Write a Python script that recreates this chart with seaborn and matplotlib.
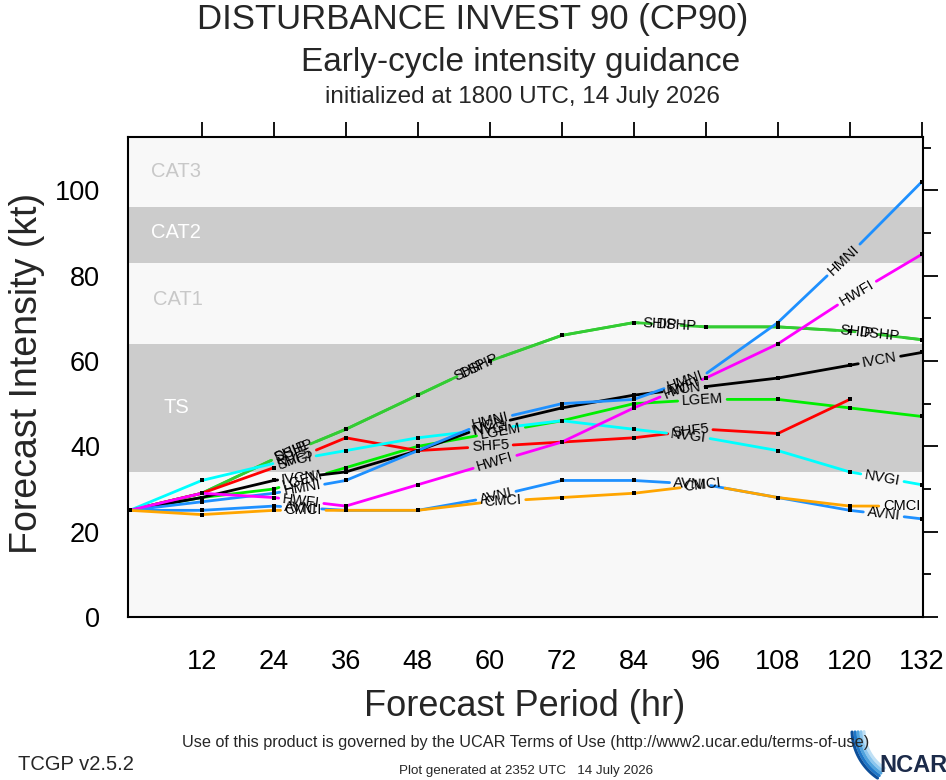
import numpy as np
import pandas as pd
import matplotlib
matplotlib.use("Agg")
import matplotlib.pyplot as plt
import seaborn as sns

# forecast hours and model intensities (kt)
hours = [0, 12, 24, 36, 48, 60, 72, 84, 96, 108, 120, 132]
ship = [25, 29, 37, 44, 52, 60, 66, 69, 68, 68, 67, 65]
dshp = [25, 29, 37, 44, 52, 60, 66, 69, 68, 68, 67, 65]
lgem = [25, 28, 30, 35, 40, 43, 46, 50, 51, 51, 49, 47]
shf5 = [25, 29, 35, 42, 39, 40, 41, 42, 44, 43, 51, np.nan]
nvgi = [25, 32, 36, 39, 42, 44, 46, 44, 42, 39, 34, 31]
ivcn = [25, 28, 32, 34, 39, 45, 49, 52, 54, 56, 59, 62]
hmni = [25, 27, 29, 32, 39, 46, 50, 51, 57, 69, 85, 102]
hwfi = [25, 29, 28, 26, 31, 36, 41, 49, 56, 64, 75, 85]
avni = [25, 25, 26, 25, 25, 28, 32, 32, 31, 28, 25, 23]
cmci = [25, 24, 25, 25, 25, 27, 28, 29, 31, 28, 26, 26]

models = {
    "SHIP": ship, "DSHP": dshp, "LGEM": lgem, "SHF5": shf5, "NVGI": nvgi,
    "IVCN": ivcn, "HMNI": hmni, "HWFI": hwfi, "AVNI": avni, "CMCI": cmci,
}
colors = {
    "SHIP": "#33cc33", "DSHP": "#33cc33", "LGEM": "#00ee00", "SHF5": "#ff0000",
    "NVGI": "#00ffff", "IVCN": "#000000", "HMNI": "#1e90ff", "HWFI": "#ff00ff",
    "AVNI": "#1e90ff", "CMCI": "#ffa500",
}

# intensity categories (kt)
bands = [(34, 64), (83, 96)]
band_labels = [("CAT3", 3.5, 104.3, "#c8c8c8"), ("CAT2", 3.5, 90.0, "white"),
               ("CAT1", 3.8, 74.3, "#c8c8c8"), ("TS", 5.6, 49.2, "white")]

sns.set_theme(style="white")
plt.rcParams['font.family'] = ['Liberation Sans', 'DejaVu Sans']

W, H = 946, 780
fig = plt.figure(figsize=(W / 100, H / 100), dpi=100)
ax = fig.add_axes([128 / W, (H - 617) / H, 795 / W, 480 / H])
ax.set_xlim(-0.3, 132.2)
ax.set_ylim(0, 112.5)
ax.set_facecolor("#f8f8f8")
for lo, hi in bands:
    ax.axhspan(lo, hi, color="#cccccc", lw=0, zorder=0)
for txt, x, y, c in band_labels:
    ax.text(x, y, txt, color=c, fontsize=14.5, ha="left", va="center", zorder=1)

LABEL_FS = 10.5
START = 155.0   # px of line before first label
GAP = 163.0     # px of line between labels
PAD = 4.0

renderer = fig.canvas.get_renderer()


def text_width(s):
    t = ax.text(0, 0, s, fontsize=LABEL_FS)
    w = t.get_window_extent(renderer).width
    t.remove()
    return w


to_px = ax.transData
to_data = ax.transData.inverted()

rows = []
dots = []
labels = []
for name, vals in models.items():
    v = np.array(vals, dtype=float)
    h = np.array(hours, dtype=float)
    ok = ~np.isnan(v)
    px = to_px.transform(np.c_[h[ok], v[ok]])
    seg = np.hypot(*np.diff(px, axis=0).T)
    s = np.r_[0, np.cumsum(seg)]
    w = text_width(name)
    gaps = []
    c = START + w / 2
    while c + w / 2 < s[-1]:
        gaps.append((c - w / 2 - PAD, c + w / 2 + PAD))
        i = min(np.searchsorted(s, c) - 1, len(seg) - 1)
        d = px[i + 1] - px[i]
        ang = np.degrees(np.arctan2(d[1], d[0]))
        pos = np.array([np.interp(c, s, px[:, 0]), np.interp(c, s, px[:, 1])])
        labels.append((name, to_data.transform(pos), ang))
        c += w + GAP
    # pieces of line between the label gaps
    keep = []
    a = 0.0
    for g0, g1 in gaps:
        keep.append((a, g0))
        a = g1
    keep.append((a, s[-1]))
    for k, (a, b) in enumerate(keep):
        ss = np.r_[a, s[(s > a) & (s < b)], b]
        pts = np.c_[np.interp(ss, s, px[:, 0]), np.interp(ss, s, px[:, 1])]
        dd = to_data.transform(pts)
        for hx, ky in dd:
            rows.append({"model": name, "piece": k, "hour": hx, "kt": ky})
    for si, (hx, ky) in zip(s, zip(h[ok], v[ok])):
        if not any(g0 <= si <= g1 for g0, g1 in gaps):
            dots.append({"hour": hx, "kt": ky})

df = pd.DataFrame(rows)
sns.lineplot(data=df, x="hour", y="kt", hue="model", units="piece",
             estimator=None, palette=colors, hue_order=list(models),
             sort=False, linewidth=2, legend=False, ax=ax, zorder=2)
sns.scatterplot(data=pd.DataFrame(dots), x="hour", y="kt", color="black",
                marker="s", s=6, linewidth=0, ax=ax, zorder=3)
for name, (x, y), ang in labels:
    ax.text(x, y, name, fontsize=LABEL_FS, rotation=ang, rotation_mode="anchor",
            ha="center", va="center", color="black", zorder=4)

ax.set_xlabel("")
ax.set_ylabel("")
ax.set_xticks(range(12, 133, 12))
ax.set_yticks(range(0, 101, 20))
ax.set_yticks(range(10, 112, 20), minor=True)
ax.tick_params(axis="both", which="both", direction="out", top=True, right=True,
               labeltop=False, labelright=False, colors="black", width=1.3)
ax.tick_params(axis="both", which="major", length=11, labelsize=19.5)
ax.tick_params(axis="y", which="minor", length=6)
ax.tick_params(axis="x", which="major", pad=12)
ax.tick_params(axis="y", which="major", pad=9)
for sp in ax.spines.values():
    sp.set_color("black")
    sp.set_linewidth(1.5)

fig.text(27 / W, 1 - 373 / H, "Forecast Intensity (kt)", rotation=90,
         fontsize=27, ha="center", va="center")
fig.text(525 / W, 1 - 707 / H, "Forecast Period (hr)", fontsize=26,
         ha="center", va="center")

fig.text(473 / W, 1 - 20 / H, "DISTURBANCE INVEST 90 (CP90)", fontsize=25,
         ha="center", va="center")
fig.text(521 / W, 1 - 62 / H, "Early-cycle intensity guidance", fontsize=24,
         ha="center", va="center")
fig.text(522 / W, 1 - 97 / H, "initialized at 1800 UTC, 14 July 2026",
         fontsize=17.5, ha="center", va="center")

fig.text(526 / W, 1 - 742 / H,
         "Use of this product is governed by the UCAR Terms of Use "
         "(http://www2.ucar.edu/terms-of-use)", fontsize=11.7, ha="center",
         va="center")
fig.text(18 / W, 1 - 765 / H, "TCGP v2.5.2", fontsize=14.5, ha="left",
         va="center")
fig.text(526 / W, 1 - 771 / H, "Plot generated at 2352 UTC   14 July 2026",
         fontsize=9.6, ha="center", va="center")

# NCAR logo: blue swoosh and lettering
cx, cy = 910, 50
th = np.radians(np.linspace(182, 236, 40))
blues = ["#bfe0f5", "#8cc6ee", "#4fa3de", "#1f78c8", "#0d4f9a"]
for r, col in zip(np.linspace(46, 58, len(blues)), blues):
    fig.add_artist(plt.Line2D((cx + r * np.cos(th)) / W, (cy + r * np.sin(th)) / H,
                              color=col, lw=2.2, transform=fig.transFigure))
fig.text(879 / W, 1 - 772 / H, "NCAR", fontsize=17, fontweight="bold",
         color="#1c2b4a", ha="left", va="baseline")

fig.savefig("out.png", dpi=100)
